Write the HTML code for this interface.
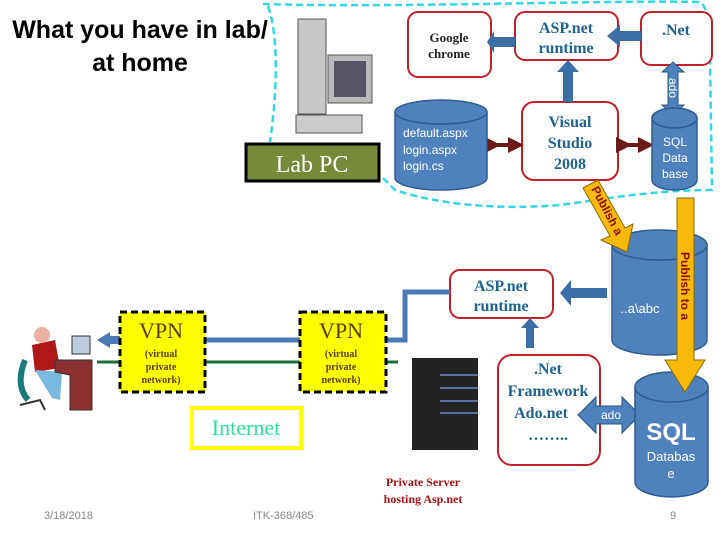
<!DOCTYPE html>
<html><head><meta charset="utf-8"><style>body{margin:0;background:#fff}svg{display:block}</style></head><body>
<svg width="720" height="540" viewBox="0 0 720 540" xmlns="http://www.w3.org/2000/svg">
<defs>
<marker id="dr" markerWidth="4" markerHeight="4" refX="2" refY="2" orient="auto"><path d="M0,0L4,2L0,4z" fill="#6b1a1a"/></marker>
</defs>
<path d="M263,4 C400,8 600,0 700,2 Q712,10 710,60 L712,190 C650,190 600,200 560,205 C500,210 440,205 395,190 L380,175 M268,6 C280,40 276,100 270,142" fill="none" stroke="#33d6e0" stroke-width="2.5" stroke-dasharray="7,4"/>
<text x="140" y="38" font-family="Liberation Sans, sans-serif" font-size="25" font-weight="bold" text-anchor="middle">What you have in lab/</text>
<text x="140" y="71" font-family="Liberation Sans, sans-serif" font-size="25" font-weight="bold" text-anchor="middle">at home</text>
<rect x="298" y="19" width="28" height="95" fill="#c8c8c8" stroke="#555"/>
<rect x="328" y="55" width="44" height="48" fill="#bbb" stroke="#555"/>
<rect x="334" y="61" width="32" height="36" fill="#556"/>
<rect x="296" y="115" width="66" height="18" fill="#ccc" stroke="#555"/>
<rect x="246" y="144" width="133" height="37" fill="#77893a" stroke="#000" stroke-width="3"/>
<text x="312" y="172" font-family="Liberation Serif, serif" font-size="24" fill="#fff" text-anchor="middle">Lab PC</text>
<g fill="#fff" stroke="#c0202a" stroke-width="2">
<rect x="408" y="12" width="83" height="65" rx="10"/>
<rect x="515" y="12" width="103" height="48" rx="10"/>
<rect x="641" y="12" width="71" height="53" rx="10"/>
<rect x="522" y="102" width="96" height="78" rx="12"/>
<rect x="450" y="270" width="103" height="48" rx="10"/>
<rect x="498" y="355" width="102" height="110" rx="14"/>
</g>
<g font-family="Liberation Serif, serif" font-weight="bold" text-anchor="middle">
<text x="449" y="42" font-size="13" fill="#222">Google</text>
<text x="449" y="58" font-size="13" fill="#222">chrome</text>
<text x="566" y="33" font-size="16" fill="#1f6391">ASP.net</text>
<text x="566" y="53" font-size="16" fill="#1f6391">runtime</text>
<text x="676" y="35" font-size="16" fill="#1f6391">.Net</text>
<text x="570" y="127" font-size="16" fill="#1f6391">Visual</text>
<text x="570" y="148" font-size="16" fill="#1f6391">Studio</text>
<text x="570" y="169" font-size="16" fill="#1f6391">2008</text>
<text x="501" y="291" font-size="16" fill="#1f6391">ASP.net</text>
<text x="501" y="311" font-size="16" fill="#1f6391">runtime</text>
<text x="548" y="374" font-size="16" fill="#1f6391">.Net</text>
<text x="548" y="396" font-size="16" fill="#1f6391">Framework</text>
<text x="541" y="418" font-size="16" fill="#1f6391">Ado.net</text>
<text x="548" y="440" font-size="16" fill="#1f6391">……..</text>
</g>
<g fill="#3b6ea5">
<path d="M641,31 L620,31 L620,25 L607,36 L620,47 L620,41 L641,41z"/>
<path d="M515,37 L494,37 L494,31 L487,42 L494,53 L494,47 L515,47z"/>
<path d="M563,102 L563,72 L557,72 L568,60 L579,72 L573,72 L573,102z"/>
<path d="M607,288 L571,288 L571,280 L560,293 L571,306 L571,298 L607,298z"/>
<path d="M526,348 L526,328 L521,328 L530,318 L539,328 L534,328 L534,348z"/>
<path d="M668,72 L662,72 L673,62 L684,72 L678,72 L678,105 L684,105 L673,115 L662,105 L668,105z" fill="#4f81bd" stroke="#2a5580"/>
<path d="M578,415 L596,397 L596,406 L622,406 L622,397 L640,415 L622,433 L622,424 L596,424 L596,433z" fill="#4f81bd" stroke="#2a5580"/>
</g>
<text x="611" y="419" font-family="Liberation Sans, sans-serif" font-size="12" fill="#fff" text-anchor="middle">ado</text>
<text transform="translate(669,78) rotate(90)" font-family="Liberation Sans, sans-serif" font-size="12" fill="#fff">ado</text>
<g stroke="#6b1a1a" stroke-width="4" marker-start="url(#dr)" marker-end="url(#dr)">
<line x1="493" y1="145" x2="516" y2="145"/>
<line x1="624" y1="145" x2="646" y2="145"/>
</g>
<g fill="#4f81bd" stroke="#2f5c8f" stroke-width="1.5">
<path d="M395,112 L395,178 A46,12 0 0 0 487,178 L487,112z"/><ellipse cx="441" cy="112" rx="46" ry="12"/>
<path d="M652,118 L652,180 A22.5,10 0 0 0 697,180 L697,118z"/><ellipse cx="674.5" cy="118" rx="22.5" ry="10"/>
<path d="M612,245 L612,340 A47.5,15 0 0 0 707,340 L707,245z"/><ellipse cx="659.5" cy="245" rx="47.5" ry="15"/>
<path d="M635,387 L635,482 A36.5,15 0 0 0 708,482 L708,387z"/><ellipse cx="671.5" cy="387" rx="36.5" ry="15"/>
</g>
<g font-family="Liberation Sans, sans-serif" fill="#fff">
<text x="403" y="137" font-size="12">default.aspx</text>
<text x="403" y="154" font-size="12">login.aspx</text>
<text x="403" y="170" font-size="12">login.cs</text>
<text x="675" y="146" font-size="12" text-anchor="middle">SQL</text>
<text x="675" y="162" font-size="12" text-anchor="middle">Data</text>
<text x="675" y="178" font-size="12" text-anchor="middle">base</text>
<text x="640" y="313" font-size="13" text-anchor="middle">..a\abc</text>
<text x="671" y="440" font-size="24" font-weight="bold" text-anchor="middle">SQL</text>
<text x="671" y="461" font-size="13" text-anchor="middle">Databas</text>
<text x="671" y="478" font-size="13" text-anchor="middle">e</text>
</g>
<path d="M583,188 L598,180 L625,228 L633,224 L627,252 L601,240 L610,236z" fill="#f9b90a" stroke="#8a6a00"/>
<text transform="translate(591,189) rotate(62)" font-family="Liberation Sans, sans-serif" font-size="12" font-weight="bold" fill="#8a1010">Publish  a</text>
<path d="M677,198 L694,198 L694,360 L705,360 L685,392 L665,360 L677,360z" fill="#f9b90a" stroke="#8a6a00"/>
<text transform="translate(681,252) rotate(90)" font-family="Liberation Sans, sans-serif" font-size="12" font-weight="bold" fill="#8a1010">Publish  to  a</text>
<path d="M450,292 L405,292 L405,340 L385,340" fill="none" stroke="#4a7ab5" stroke-width="5"/>
<line x1="205" y1="340" x2="300" y2="340" stroke="#4a7ab5" stroke-width="5"/>
<path d="M120,336 L110,336 L110,332 L97,340 L110,348 L110,344 L120,344z" fill="#4a7ab5"/>
<line x1="97" y1="362" x2="120" y2="362" stroke="#1e6e3a" stroke-width="3"/>
<line x1="205" y1="362" x2="300" y2="362" stroke="#1e6e3a" stroke-width="3"/>
<line x1="385" y1="362" x2="398" y2="362" stroke="#1e6e3a" stroke-width="3"/>
<g fill="#ffff00" stroke="#000" stroke-width="3" stroke-dasharray="7,4">
<rect x="120" y="312" width="85" height="80"/>
<rect x="300" y="312" width="86" height="80"/>
</g>
<g font-family="Liberation Serif, serif" text-anchor="middle" fill="#5a3a10">
<text x="161" y="338" font-size="22">VPN</text>
<text x="161" y="357" font-size="10" font-weight="bold">(virtual</text>
<text x="161" y="370" font-size="10" font-weight="bold">private</text>
<text x="161" y="383" font-size="10" font-weight="bold">network)</text>
<text x="341" y="338" font-size="22">VPN</text>
<text x="341" y="357" font-size="10" font-weight="bold">(virtual</text>
<text x="341" y="370" font-size="10" font-weight="bold">private</text>
<text x="341" y="383" font-size="10" font-weight="bold">network)</text>
</g>
<rect x="192" y="408" width="109" height="40" fill="#fff" stroke="#ffff00" stroke-width="4"/>
<text x="246" y="435" font-family="Liberation Serif, serif" font-size="22" fill="#2de0a0" text-anchor="middle">Internet</text>
<path d="M25,360 Q15,385 28,400" stroke="#1a7a7a" stroke-width="6" fill="none"/>
<path d="M32,345 L55,340 L60,368 L35,372z" fill="#b01818"/>
<circle cx="42" cy="335" r="8" fill="#e8b0a0"/>
<path d="M35,370 L62,372 L60,400 L52,398z" fill="#7ab8e0"/>
<path d="M55,360 L92,360 L92,410 L70,410 L70,375 L55,372z" fill="#8c3030" stroke="#333"/>
<rect x="72" y="336" width="18" height="18" fill="#bcd" stroke="#333"/>
<path d="M20,405 L40,400 L45,410" stroke="#333" stroke-width="2" fill="none"/>
<rect x="412" y="358" width="66" height="92" fill="#222"/>
<g stroke="#6a8ac8" stroke-width="1.5"><line x1="440" y1="375" x2="478" y2="375"/><line x1="440" y1="388" x2="478" y2="388"/><line x1="440" y1="401" x2="478" y2="401"/><line x1="440" y1="413" x2="478" y2="413"/></g>
<text x="423" y="486" font-family="Liberation Serif, serif" font-size="12" font-weight="bold" fill="#b01010" text-anchor="middle">Private Server</text>
<text x="423" y="503" font-family="Liberation Serif, serif" font-size="12" font-weight="bold" fill="#b01010" text-anchor="middle">hosting Asp.net</text>
<g font-family="Liberation Sans, sans-serif" font-size="11" fill="#888">
<text x="44" y="519">3/18/2018</text>
<text x="253" y="519">ITK-368/485</text>
<text x="670" y="519">9</text>
</g>
</svg>
</body></html>
